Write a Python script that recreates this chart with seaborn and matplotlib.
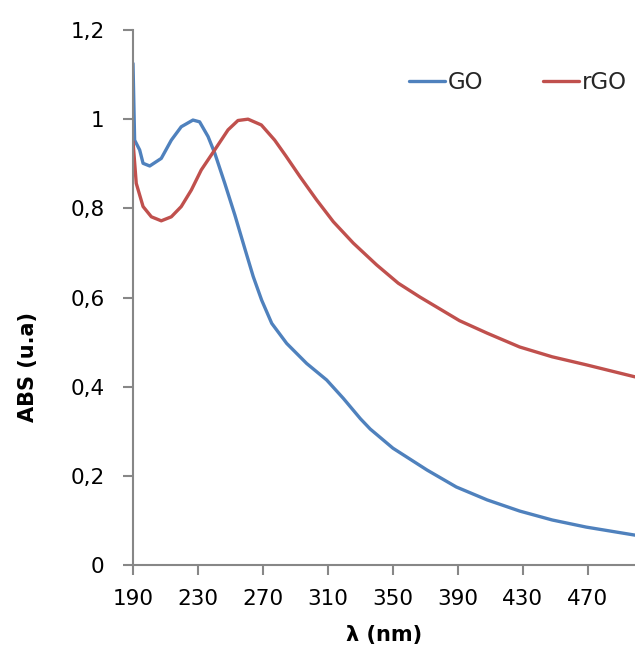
import matplotlib
matplotlib.use("Agg")
import matplotlib.pyplot as plt
import seaborn as sns
import pandas as pd

go_nm = [190, 191, 194.1, 196.2, 200.3, 207.4, 213.6, 219.7, 226.9, 231, 236.2, 240.4, 246.5, 252.7, 258.8, 264, 269.2, 275.4, 284.6, 296.9, 309.2, 319.4, 330, 336, 350, 371, 389, 408, 428, 448, 469, 499]
go_abs = [1.125, 0.953, 0.931, 0.901, 0.895, 0.912, 0.953, 0.983, 0.998, 0.994, 0.961, 0.923, 0.856, 0.785, 0.71, 0.647, 0.594, 0.542, 0.497, 0.452, 0.415, 0.374, 0.328, 0.305, 0.262, 0.213, 0.175, 0.146, 0.121, 0.101, 0.085, 0.067]

rgo_nm = [190, 192, 196.2, 201.3, 207.4, 213.6, 219.7, 225.9, 232, 240.3, 248.5, 254.6, 260.8, 269, 277.2, 284, 292.8, 303, 313.3, 325.6, 340, 353.3, 366.6, 391, 408, 428, 448, 469, 499]
rgo_abs = [0.95, 0.856, 0.804, 0.781, 0.772, 0.781, 0.804, 0.841, 0.886, 0.931, 0.976, 0.997, 1.0, 0.987, 0.953, 0.918, 0.871, 0.819, 0.77, 0.722, 0.673, 0.632, 0.601, 0.548, 0.52, 0.489, 0.467, 0.449, 0.422]

series_names = ["GO", "rGO"]
x_ticks = [190, 230, 270, 310, 350, 390, 430, 470]
y_ticks = [0, 0.2, 0.4, 0.6, 0.8, 1.0, 1.2]
y_tick_labels = ["0", "0,2", "0,4", "0,6", "0,8", "1", "1,2"]

df = pd.concat([
    pd.DataFrame({"nm": go_nm, "abs": go_abs, "s": series_names[0]}),
    pd.DataFrame({"nm": rgo_nm, "abs": rgo_abs, "s": series_names[1]}),
])

sns.set_style("white")
plt.rcParams['font.family'] = ['DejaVu Sans']

fig = plt.figure(figsize=(6.35, 6.48), dpi=100)
ax = fig.add_axes([133/635, 1 - 565/648, (635 - 133)/635, 535/648])

sns.lineplot(data=df, x="nm", y="abs", hue="s", sort=False,
             palette={"GO": "#4F81BD", "rGO": "#C0504D"},
             linewidth=2.4, ax=ax, estimator=None)

ax.set_xlim(190, 499)
ax.set_ylim(0, 1.2)
ax.set_xticks(x_ticks)
ax.set_yticks(y_ticks)
ax.set_yticklabels(y_tick_labels)

spine_c = "#878787"
for s in ["top", "right"]:
    ax.spines[s].set_visible(False)
for s in ["left", "bottom"]:
    ax.spines[s].set_color(spine_c)
    ax.spines[s].set_linewidth(1.5)
ax.tick_params(axis="both", direction="out", length=7.5, width=1.5, color=spine_c,
               labelsize=15.5, labelcolor="black")
ax.tick_params(axis="y", pad=13)
ax.tick_params(axis="x", pad=10)
ax.tick_params(left=True, bottom=True)

ax.set_xlabel("λ (nm)", fontsize=15, fontweight="bold", color="black")
ax.set_ylabel("ABS (u.a)", fontsize=15, fontweight="bold", color="black")
ax.xaxis.set_label_coords(0.5, -0.113)
ax.yaxis.set_label_coords(-0.19, 0.37)

leg = ax.legend(loc="center", bbox_to_anchor=(0.767, 0.901), ncol=2, frameon=False,
                fontsize=16.5, handlelength=1.57, columnspacing=2.6, handletextpad=0.12,
                title=None)

fig.savefig("out.png", dpi=100)
